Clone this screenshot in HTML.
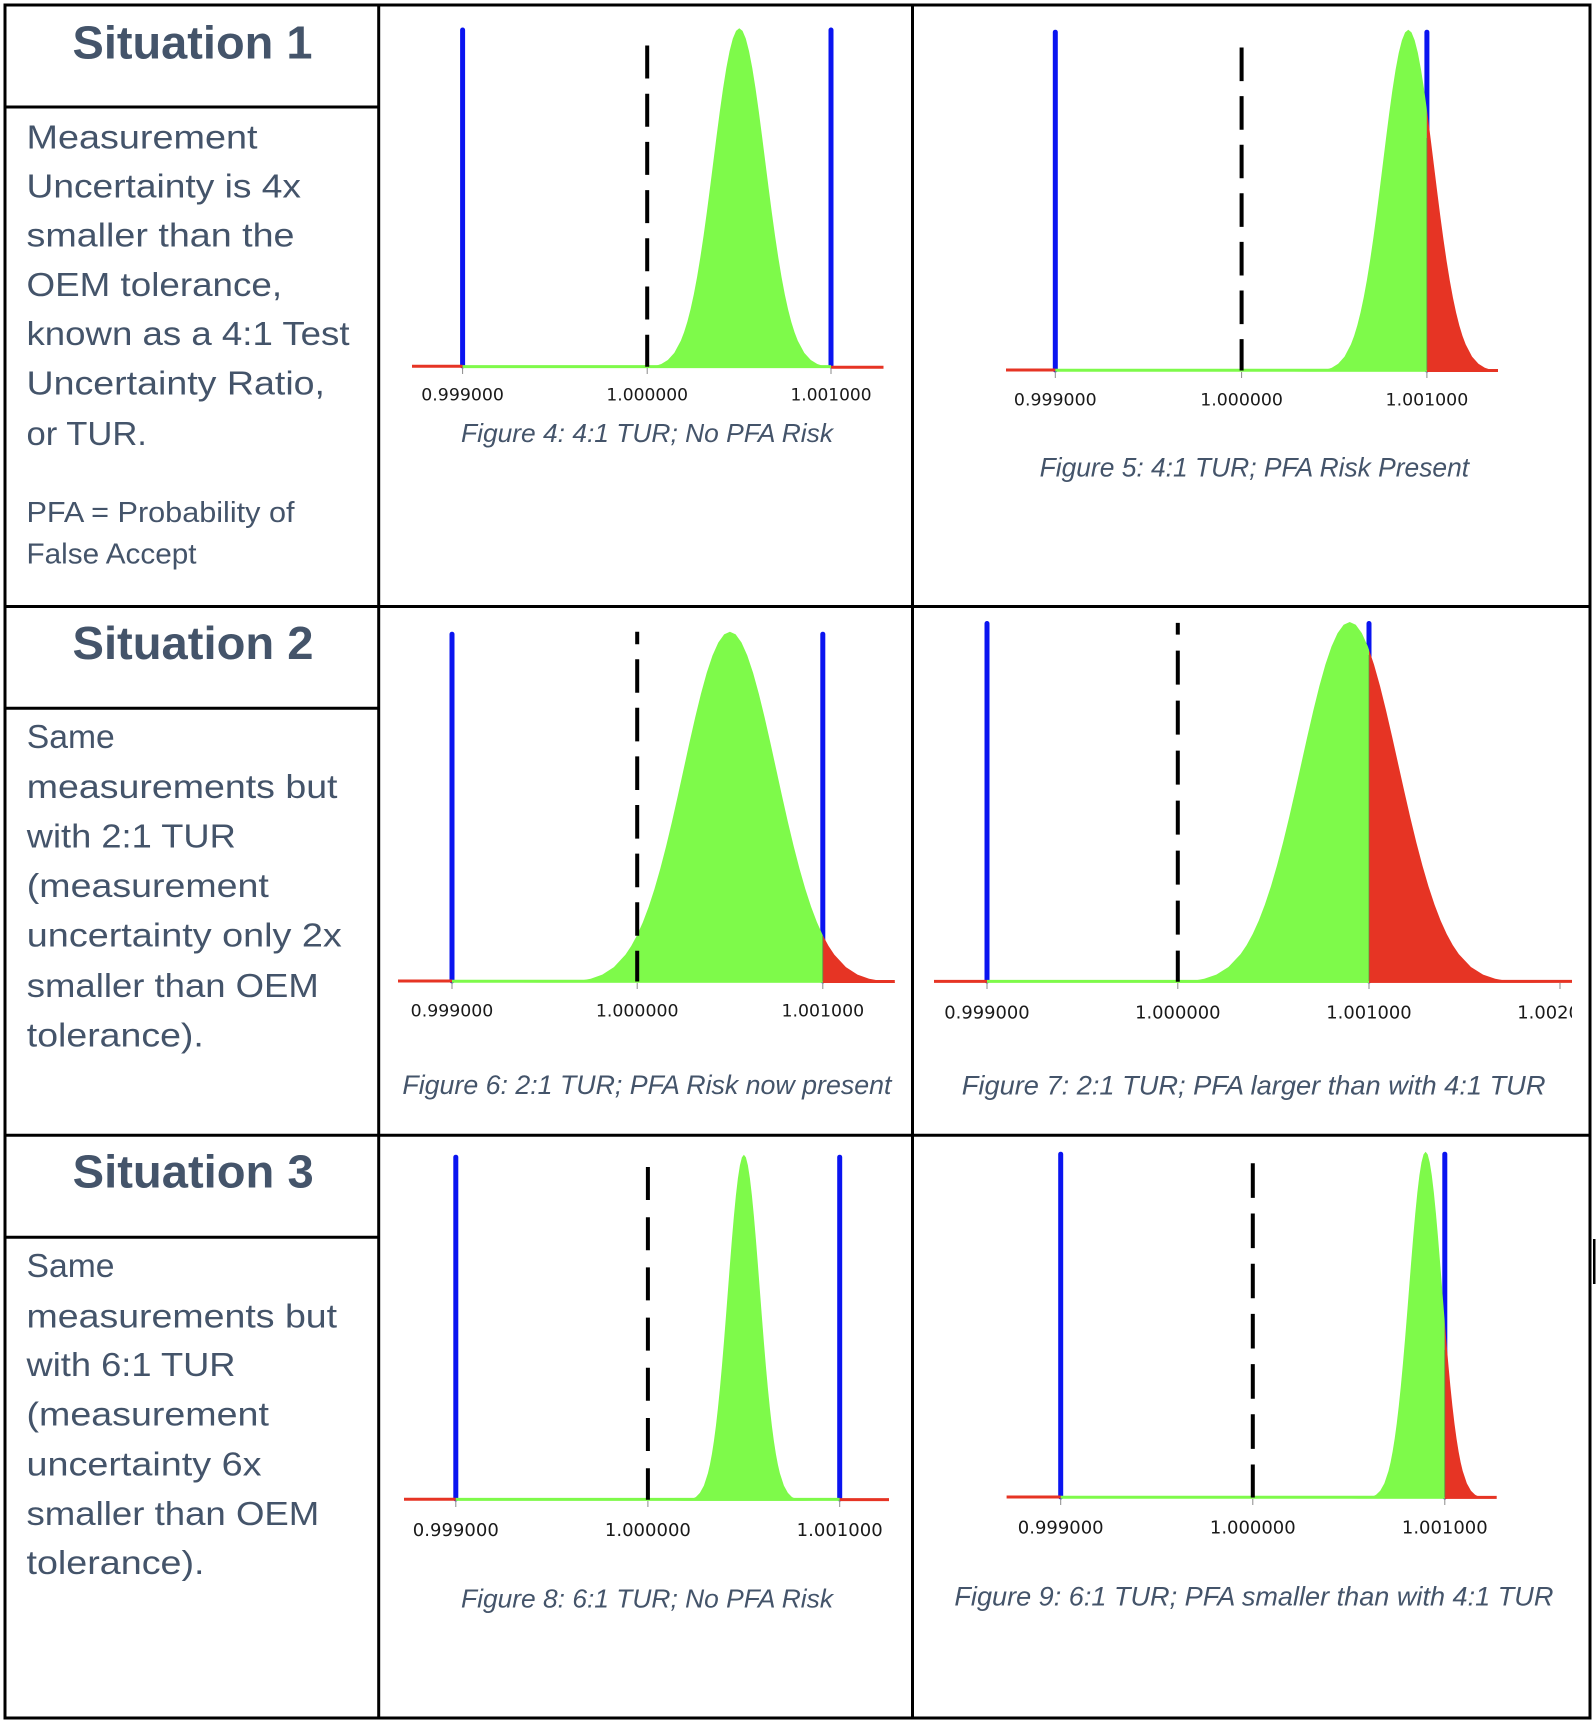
<!DOCTYPE html>
<html>
<head>
<meta charset="utf-8">
<style>
  html, body { margin: 0; padding: 0; background: #fff; }
  svg { display: block; }
  .body { font-family: "Liberation Sans", "DejaVu Sans", sans-serif; fill: #44546A; }
  .head { font-family: "Liberation Sans", "DejaVu Sans", sans-serif; font-weight: bold; fill: #44546A; font-size: 46px; }
  .cap { font-family: "Liberation Sans", "DejaVu Sans", sans-serif; font-style: italic; fill: #44546A; }
  .tick { font-family: "DejaVu Sans", "Liberation Sans", sans-serif; fill: #1a1a1a; }
</style>
</head>
<body>
<svg width="1596" height="1724" viewBox="0 0 1596 1724" xmlns="http://www.w3.org/2000/svg">
<rect x="0" y="0" width="1596" height="1724" fill="#ffffff"/>
<defs>
  <path id="g" d="M-6,0 L-5,0 L-4.5,0.00004 L-4,0.00034 L-3.75,0.00088 L-3.5,0.00219 L-3.25,0.00509 L-3,0.01111 L-2.75,0.02279 L-2.5,0.04394 L-2.25,0.07956 L-2.125,0.10458 L-2,0.13534 L-1.875,0.17242 L-1.75,0.21627 L-1.625,0.26705 L-1.5,0.32465 L-1.375,0.38856 L-1.25,0.45783 L-1.125,0.53109 L-1,0.60653 L-0.875,0.68194 L-0.75,0.75484 L-0.625,0.82258 L-0.5,0.8825 L-0.375,0.9321 L-0.25,0.96923 L-0.125,0.99222 L0,1 L0.125,0.99222 L0.25,0.96923 L0.375,0.9321 L0.5,0.8825 L0.625,0.82258 L0.75,0.75484 L0.875,0.68194 L1,0.60653 L1.125,0.53109 L1.25,0.45783 L1.375,0.38856 L1.5,0.32465 L1.625,0.26705 L1.75,0.21627 L1.875,0.17242 L2,0.13534 L2.125,0.10458 L2.25,0.07956 L2.5,0.04394 L2.75,0.02279 L3,0.01111 L3.25,0.00509 L3.5,0.00219 L3.75,0.00088 L4,0.00034 L4.5,0.00004 L5,0 L6,0 Z"/>
  <clipPath id="c1g"><rect x="462.6" y="0" width="368.4" height="1724"/></clipPath>
  <clipPath id="c1r"><rect x="412" y="0" width="50.6" height="1724"/><rect x="831" y="0" width="52.5" height="1724"/></clipPath>
  <clipPath id="c2g"><rect x="1055.3" y="0" width="371.6" height="1724"/></clipPath>
  <clipPath id="c2r"><rect x="1006" y="0" width="49.3" height="1724"/><rect x="1426.9" y="0" width="71.1" height="1724"/></clipPath>
  <clipPath id="c3g"><rect x="452" y="0" width="370.8" height="1724"/></clipPath>
  <clipPath id="c3r"><rect x="398" y="0" width="54" height="1724"/><rect x="822.8" y="0" width="72" height="1724"/></clipPath>
  <clipPath id="c4g"><rect x="987" y="0" width="382" height="1724"/></clipPath>
  <clipPath id="c4r"><rect x="934" y="0" width="53" height="1724"/><rect x="1369" y="0" width="203" height="1724"/></clipPath>
  <clipPath id="c4all"><rect x="913" y="608" width="659" height="430"/></clipPath>
  <clipPath id="c5g"><rect x="455.8" y="0" width="383.9" height="1724"/></clipPath>
  <clipPath id="c5r"><rect x="404" y="0" width="51.8" height="1724"/><rect x="839.7" y="0" width="49.3" height="1724"/></clipPath>
  <clipPath id="c6g"><rect x="1060.7" y="0" width="384.1" height="1724"/></clipPath>
  <clipPath id="c6r"><rect x="1006.6" y="0" width="54.1" height="1724"/><rect x="1444.8" y="0" width="51.9" height="1724"/></clipPath>
</defs>

<!-- ================= CHART 1 (Figure 4) ================= -->
<g>
  <line x1="462.6" y1="30" x2="462.6" y2="366" stroke="#0A14F0" stroke-width="5" stroke-linecap="round"/>
  <line x1="831" y1="30" x2="831" y2="366" stroke="#0A14F0" stroke-width="5" stroke-linecap="round"/>
  <line x1="412" y1="366.3" x2="462.6" y2="366.3" stroke="#E63424" stroke-width="3"/>
  <line x1="462.6" y1="366.6" x2="831" y2="366.6" stroke="#7EFA4A" stroke-width="3"/>
  <line x1="831" y1="367.2" x2="883.5" y2="367.2" stroke="#E63424" stroke-width="3"/>
  <g clip-path="url(#c1g)" fill="#7EFA4A"><use href="#g" transform="translate(739.3,367.8) scale(26,-339.6)"/></g>
  <g clip-path="url(#c1r)" fill="#E63424"><use href="#g" transform="translate(739.3,367.8) scale(26,-339.6)"/></g>
  <line x1="647.2" y1="45.5" x2="647.2" y2="366.7" stroke="#000" stroke-width="4" stroke-dasharray="33 15.2"/>
  <g stroke="#8a8a8a" stroke-width="1">
    <line x1="462.6" y1="368" x2="462.6" y2="374"/>
    <line x1="647.2" y1="368" x2="647.2" y2="374"/>
    <line x1="831" y1="368" x2="831" y2="374"/>
  </g>
  <g class="tick" font-size="17">
    <text x="421.3" y="400.5" textLength="82.6" lengthAdjust="spacingAndGlyphs">0.999000</text>
    <text x="606.4" y="400.5" textLength="81.6" lengthAdjust="spacingAndGlyphs">1.000000</text>
    <text x="790.5" y="400.5" textLength="81" lengthAdjust="spacingAndGlyphs">1.001000</text>
  </g>
  <text class="cap" x="461" y="441.8" font-size="26" textLength="372" lengthAdjust="spacingAndGlyphs">Figure 4: 4:1 TUR; No PFA Risk</text>
</g>

<!-- ================= CHART 2 (Figure 5) ================= -->
<g>
  <line x1="1055.3" y1="32.2" x2="1055.3" y2="370" stroke="#0A14F0" stroke-width="5" stroke-linecap="round"/>
  <line x1="1426.9" y1="32.2" x2="1426.9" y2="370" stroke="#0A14F0" stroke-width="5" stroke-linecap="round"/>
  <line x1="1006" y1="370" x2="1055.3" y2="370" stroke="#E63424" stroke-width="3"/>
  <line x1="1055.3" y1="370.2" x2="1426.9" y2="370.2" stroke="#7EFA4A" stroke-width="3"/>
  <line x1="1426.9" y1="370.5" x2="1498" y2="370.5" stroke="#E63424" stroke-width="3"/>
  <g clip-path="url(#c2g)" fill="#7EFA4A"><use href="#g" transform="translate(1408.3,371.6) scale(25.5,-341.9)"/></g>
  <g clip-path="url(#c2r)" fill="#E63424"><use href="#g" transform="translate(1408.3,371.6) scale(25.5,-341.9)"/></g>
  <line x1="1426.9" y1="138" x2="1426.9" y2="370" stroke="#5d8f3f" stroke-width="1" opacity="0.7"/>
  <line x1="1241.6" y1="47.5" x2="1241.6" y2="370.5" stroke="#000" stroke-width="4" stroke-dasharray="33.6 15"/>
  <g stroke="#8a8a8a" stroke-width="1">
    <line x1="1055.3" y1="372" x2="1055.3" y2="378"/>
    <line x1="1241.6" y1="372" x2="1241.6" y2="378"/>
    <line x1="1426.9" y1="372" x2="1426.9" y2="378"/>
  </g>
  <g class="tick" font-size="17">
    <text x="1013.95" y="405.3" textLength="82.7" lengthAdjust="spacingAndGlyphs">0.999000</text>
    <text x="1200.25" y="405.3" textLength="82.7" lengthAdjust="spacingAndGlyphs">1.000000</text>
    <text x="1385.55" y="405.3" textLength="82.7" lengthAdjust="spacingAndGlyphs">1.001000</text>
  </g>
  <text class="cap" x="1039.6" y="476.5" font-size="27" textLength="429.5" lengthAdjust="spacingAndGlyphs">Figure 5: 4:1 TUR; PFA Risk Present</text>
</g>

<!-- ================= CHART 3 (Figure 6) ================= -->
<g>
  <line x1="452" y1="634.2" x2="452" y2="981" stroke="#0A14F0" stroke-width="5" stroke-linecap="round"/>
  <line x1="822.8" y1="634.2" x2="822.8" y2="981" stroke="#0A14F0" stroke-width="5" stroke-linecap="round"/>
  <line x1="398" y1="981" x2="452" y2="981" stroke="#E63424" stroke-width="3"/>
  <line x1="452" y1="981.2" x2="822.8" y2="981.2" stroke="#7EFA4A" stroke-width="3"/>
  <line x1="822.8" y1="981.5" x2="894.8" y2="981.5" stroke="#E63424" stroke-width="3"/>
  <g clip-path="url(#c3g)" fill="#7EFA4A"><use href="#g" transform="translate(729.9,982.6) scale(46.4,-350.9)"/></g>
  <g clip-path="url(#c3r)" fill="#E63424"><use href="#g" transform="translate(729.9,982.6) scale(46.4,-350.9)"/></g>
  <line x1="822.8" y1="936" x2="822.8" y2="981" stroke="#5d8f3f" stroke-width="1" opacity="0.7"/>
  <line x1="637.2" y1="631.7" x2="637.2" y2="981.5" stroke="#000" stroke-width="4" stroke-dasharray="33.6 15" stroke-dashoffset="21.1"/>
  <g stroke="#8a8a8a" stroke-width="1">
    <line x1="452" y1="983" x2="452" y2="989"/>
    <line x1="637.2" y1="983" x2="637.2" y2="989"/>
    <line x1="822.8" y1="983" x2="822.8" y2="989"/>
  </g>
  <g class="tick" font-size="17">
    <text x="410.7" y="1016.7" textLength="82.6" lengthAdjust="spacingAndGlyphs">0.999000</text>
    <text x="595.9" y="1016.7" textLength="82.6" lengthAdjust="spacingAndGlyphs">1.000000</text>
    <text x="781.5" y="1016.7" textLength="82.6" lengthAdjust="spacingAndGlyphs">1.001000</text>
  </g>
  <text class="cap" x="402.4" y="1094" font-size="27" textLength="489" lengthAdjust="spacingAndGlyphs">Figure 6: 2:1 TUR; PFA Risk now present</text>
</g>

<!-- ================= CHART 4 (Figure 7) ================= -->
<g clip-path="url(#c4all)">
  <line x1="987" y1="623.5" x2="987" y2="981" stroke="#0A14F0" stroke-width="5" stroke-linecap="round"/>
  <line x1="1369" y1="623.5" x2="1369" y2="981" stroke="#0A14F0" stroke-width="5" stroke-linecap="round"/>
  <line x1="934" y1="981.4" x2="987" y2="981.4" stroke="#E63424" stroke-width="3"/>
  <line x1="987" y1="981.4" x2="1369" y2="981.4" stroke="#7EFA4A" stroke-width="3"/>
  <line x1="1369" y1="981.4" x2="1572" y2="981.4" stroke="#E63424" stroke-width="3"/>
  <g clip-path="url(#c4g)" fill="#7EFA4A"><use href="#g" transform="translate(1349.7,982.8) scale(48.5,-360.8)"/></g>
  <g clip-path="url(#c4r)" fill="#E63424"><use href="#g" transform="translate(1349.7,982.8) scale(48.5,-360.8)"/></g>
  <line x1="1369" y1="655" x2="1369" y2="981" stroke="#5d8f3f" stroke-width="1" opacity="0.7"/>
  <line x1="1177.8" y1="622.9" x2="1177.8" y2="981.7" stroke="#000" stroke-width="4" stroke-dasharray="34 16" stroke-dashoffset="22.3"/>
  <g stroke="#8a8a8a" stroke-width="1">
    <line x1="987" y1="983" x2="987" y2="989"/>
    <line x1="1177.8" y1="983" x2="1177.8" y2="989"/>
    <line x1="1369" y1="983" x2="1369" y2="989"/>
    <line x1="1560" y1="983" x2="1560" y2="989"/>
  </g>
  <g class="tick" font-size="17.5">
    <text x="944.3" y="1018.7" textLength="85.4" lengthAdjust="spacingAndGlyphs">0.999000</text>
    <text x="1135.1" y="1018.7" textLength="85.4" lengthAdjust="spacingAndGlyphs">1.000000</text>
    <text x="1326.3" y="1018.7" textLength="85.4" lengthAdjust="spacingAndGlyphs">1.001000</text>
    <text x="1517.3" y="1018.7" textLength="85.4" lengthAdjust="spacingAndGlyphs">1.002000</text>
  </g>
</g>
<text class="cap" x="961.8" y="1094.5" font-size="27" textLength="583.7" lengthAdjust="spacingAndGlyphs">Figure 7: 2:1 TUR; PFA larger than with 4:1 TUR</text>

<!-- ================= CHART 5 (Figure 8) ================= -->
<g>
  <line x1="455.8" y1="1157.2" x2="455.8" y2="1499" stroke="#0A14F0" stroke-width="5" stroke-linecap="round"/>
  <line x1="839.7" y1="1157.2" x2="839.7" y2="1499" stroke="#0A14F0" stroke-width="5" stroke-linecap="round"/>
  <line x1="404" y1="1499.2" x2="455.8" y2="1499.2" stroke="#E63424" stroke-width="3"/>
  <line x1="455.8" y1="1499.4" x2="839.7" y2="1499.4" stroke="#7EFA4A" stroke-width="3"/>
  <line x1="839.7" y1="1499.6" x2="889" y2="1499.6" stroke="#E63424" stroke-width="3"/>
  <g clip-path="url(#c5g)" fill="#7EFA4A"><use href="#g" transform="translate(743.9,1500.8) scale(16,-346.1)"/></g>
  <g clip-path="url(#c5r)" fill="#E63424"><use href="#g" transform="translate(743.9,1500.8) scale(16,-346.1)"/></g>
  <line x1="647.9" y1="1167" x2="647.9" y2="1499.7" stroke="#000" stroke-width="4" stroke-dasharray="33 17.2"/>
  <g stroke="#8a8a8a" stroke-width="1">
    <line x1="455.8" y1="1501" x2="455.8" y2="1507"/>
    <line x1="647.9" y1="1501" x2="647.9" y2="1507"/>
    <line x1="839.7" y1="1501" x2="839.7" y2="1507"/>
  </g>
  <g class="tick" font-size="17.5">
    <text x="412.8" y="1535.9" textLength="86" lengthAdjust="spacingAndGlyphs">0.999000</text>
    <text x="604.9" y="1535.9" textLength="86" lengthAdjust="spacingAndGlyphs">1.000000</text>
    <text x="796.7" y="1535.9" textLength="86" lengthAdjust="spacingAndGlyphs">1.001000</text>
  </g>
  <text class="cap" x="461" y="1607.4" font-size="26" textLength="372" lengthAdjust="spacingAndGlyphs">Figure 8: 6:1 TUR; No PFA Risk</text>
</g>

<!-- ================= CHART 6 (Figure 9) ================= -->
<g>
  <line x1="1060.7" y1="1154.2" x2="1060.7" y2="1497" stroke="#0A14F0" stroke-width="5" stroke-linecap="round"/>
  <line x1="1444.8" y1="1154.2" x2="1444.8" y2="1497" stroke="#0A14F0" stroke-width="5" stroke-linecap="round"/>
  <line x1="1006.6" y1="1497" x2="1060.7" y2="1497" stroke="#E63424" stroke-width="3"/>
  <line x1="1060.7" y1="1497.2" x2="1444.8" y2="1497.2" stroke="#7EFA4A" stroke-width="3"/>
  <line x1="1444.8" y1="1497.4" x2="1496.7" y2="1497.4" stroke="#E63424" stroke-width="3"/>
  <g clip-path="url(#c6g)" fill="#7EFA4A"><use href="#g" transform="translate(1425.6,1498.6) scale(16.5,-346.9)"/></g>
  <g clip-path="url(#c6r)" fill="#E63424"><use href="#g" transform="translate(1425.6,1498.6) scale(16.5,-346.9)"/></g>
  <line x1="1444.8" y1="1350" x2="1444.8" y2="1497" stroke="#5d8f3f" stroke-width="1" opacity="0.7"/>
  <line x1="1252.8" y1="1163.3" x2="1252.8" y2="1497.5" stroke="#000" stroke-width="4" stroke-dasharray="34.6 15.6"/>
  <g stroke="#8a8a8a" stroke-width="1">
    <line x1="1060.7" y1="1499" x2="1060.7" y2="1505"/>
    <line x1="1252.8" y1="1499" x2="1252.8" y2="1505"/>
    <line x1="1444.8" y1="1499" x2="1444.8" y2="1505"/>
  </g>
  <g class="tick" font-size="17.5">
    <text x="1017.8" y="1533.6" textLength="85.8" lengthAdjust="spacingAndGlyphs">0.999000</text>
    <text x="1209.9" y="1533.6" textLength="85.8" lengthAdjust="spacingAndGlyphs">1.000000</text>
    <text x="1401.9" y="1533.6" textLength="85.8" lengthAdjust="spacingAndGlyphs">1.001000</text>
  </g>
  <text class="cap" x="954.4" y="1605.5" font-size="27" textLength="599" lengthAdjust="spacingAndGlyphs">Figure 9: 6:1 TUR; PFA smaller than with 4:1 TUR</text>
</g>

<!-- ================= LEFT COLUMN TEXT ================= -->
<text class="head" x="72.5" y="58.5" textLength="240" lengthAdjust="spacingAndGlyphs">Situation 1</text>
<g class="body" font-size="33">
  <text x="26.5" y="148.3" textLength="231" lengthAdjust="spacingAndGlyphs">Measurement</text>
  <text x="26.5" y="197.7" textLength="274.5" lengthAdjust="spacingAndGlyphs">Uncertainty is 4x</text>
  <text x="26.5" y="246.5" textLength="268" lengthAdjust="spacingAndGlyphs">smaller than the</text>
  <text x="26.5" y="295.8" textLength="255.6" lengthAdjust="spacingAndGlyphs">OEM tolerance,</text>
  <text x="26.5" y="344.8" textLength="323" lengthAdjust="spacingAndGlyphs">known as a 4:1 Test</text>
  <text x="26.5" y="394.6" textLength="298.5" lengthAdjust="spacingAndGlyphs">Uncertainty Ratio,</text>
  <text x="26.5" y="444.8" textLength="120.4" lengthAdjust="spacingAndGlyphs">or TUR.</text>
</g>
<g class="body" font-size="29">
  <text x="26.5" y="522" textLength="268" lengthAdjust="spacingAndGlyphs">PFA = Probability of</text>
  <text x="26.5" y="563.5" textLength="170" lengthAdjust="spacingAndGlyphs">False Accept</text>
</g>

<text class="head" x="72.5" y="659" textLength="241" lengthAdjust="spacingAndGlyphs">Situation 2</text>
<g class="body" font-size="33">
  <text x="26.8" y="748" textLength="88" lengthAdjust="spacingAndGlyphs">Same</text>
  <text x="26.8" y="798.2" textLength="310.7" lengthAdjust="spacingAndGlyphs">measurements but</text>
  <text x="26.8" y="847.5" textLength="209" lengthAdjust="spacingAndGlyphs">with 2:1 TUR</text>
  <text x="26.8" y="897" textLength="242" lengthAdjust="spacingAndGlyphs">(measurement</text>
  <text x="26.8" y="946.4" textLength="315" lengthAdjust="spacingAndGlyphs">uncertainty only 2x</text>
  <text x="26.8" y="997" textLength="292" lengthAdjust="spacingAndGlyphs">smaller than OEM</text>
  <text x="26.8" y="1046.4" textLength="177" lengthAdjust="spacingAndGlyphs">tolerance).</text>
</g>

<text class="head" x="72.7" y="1187.6" textLength="241" lengthAdjust="spacingAndGlyphs">Situation 3</text>
<g class="body" font-size="33">
  <text x="26.5" y="1277" textLength="88" lengthAdjust="spacingAndGlyphs">Same</text>
  <text x="26.5" y="1327.7" textLength="310.6" lengthAdjust="spacingAndGlyphs">measurements but</text>
  <text x="26.5" y="1376.2" textLength="209" lengthAdjust="spacingAndGlyphs">with 6:1 TUR</text>
  <text x="26.5" y="1425.5" textLength="242.4" lengthAdjust="spacingAndGlyphs">(measurement</text>
  <text x="26.5" y="1475.5" textLength="235" lengthAdjust="spacingAndGlyphs">uncertainty 6x</text>
  <text x="26.5" y="1525" textLength="292.8" lengthAdjust="spacingAndGlyphs">smaller than OEM</text>
  <text x="26.5" y="1574" textLength="178" lengthAdjust="spacingAndGlyphs">tolerance).</text>
</g>

<!-- ================= TABLE GRID ================= -->
<g stroke="#000" stroke-width="3" fill="none">
  <line x1="3.5" y1="5" x2="1591.5" y2="5"/>
  <line x1="3.5" y1="1718" x2="1591.5" y2="1718"/>
  <line x1="5" y1="3.5" x2="5" y2="1719.5"/>
  <line x1="1590" y1="3.5" x2="1590" y2="1719.5"/>
  <line x1="378.7" y1="5" x2="378.7" y2="1718"/>
  <line x1="912.5" y1="5" x2="912.5" y2="1718"/>
  <line x1="5" y1="606.5" x2="1590" y2="606.5"/>
  <line x1="5" y1="1135.2" x2="1590" y2="1135.2"/>
  <line x1="5" y1="107" x2="378.7" y2="107"/>
  <line x1="5" y1="708.3" x2="378.7" y2="708.3"/>
  <line x1="5" y1="1237.2" x2="378.7" y2="1237.2"/>
</g>
<rect x="1593" y="1239" width="2.5" height="45" fill="#000"/>
</svg>
</body>
</html>
